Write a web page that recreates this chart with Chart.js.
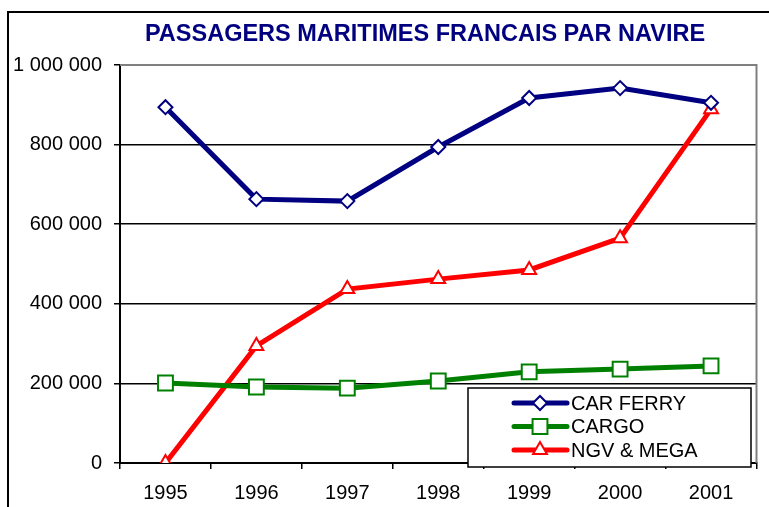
<!DOCTYPE html>
<html>
<head>
<meta charset="utf-8">
<script src="https://cdn.jsdelivr.net/npm/chart.js@4/dist/chart.umd.min.js"></script>
<style>
  body { margin: 0; background: #fff; }
  #wrap { width: 769px; height: 507px; }
</style>
</head>
<body>
<div id="wrap"><canvas id="navires" width="769" height="507"></canvas></div>
<script>
const years = ["1995", "1996", "1997", "1998", "1999", "2000", "2001"];
const carFerry = [894000, 663000, 658000, 794000, 917000, 942000, 905000];
const cargo = [201000, 191000, 188000, 206000, 229000, 236000, 244000];
const ngvMega = [0, 294000, 437000, 462000, 485000, 565000, 889000];
const yTicks = [0, 200000, 400000, 600000, 800000, 1000000];

function frNumber(v) {
    return String(v).replace(/\B(?=(\d{3})+(?!\d))/g, " ");
}

// title, outer frame, gray plot border and the boxed legend
const decor = {
    id: 'decor',
    afterDraw(chart) {
        const c = chart.ctx;
        const a = chart.chartArea;
        c.save();
        c.strokeStyle = '#000';
        c.lineWidth = 2;
        c.strokeRect(8, 12, 800, 600);

        c.strokeStyle = '#808080';
        c.lineWidth = 2;
        c.beginPath();
        c.moveTo(a.left, a.top);
        c.lineTo(a.right, a.top);
        c.lineTo(a.right, a.bottom);
        c.stroke();

        c.fillStyle = '#000080';
        c.font = 'bold 23.5px "Liberation Sans", Arial, sans-serif';
        c.textAlign = 'center';
        c.textBaseline = 'middle';
        c.fillText('PASSAGERS MARITIMES FRANCAIS PAR NAVIRE', 425, 35);

        // legend box
        c.fillStyle = '#fff';
        c.fillRect(468, 388, 283, 79);
        c.strokeStyle = '#000';
        c.lineWidth = 1.5;
        c.strokeRect(468, 388, 283, 79);
        c.font = '20px "Liberation Sans", Arial, sans-serif';
        c.textAlign = 'left';
        chart.data.datasets.forEach(function (ds, i) {
            const y = 403 + i * 23.5;
            c.strokeStyle = ds.borderColor;
            c.lineWidth = 5;
            c.lineCap = 'round';
            c.beginPath();
            c.moveTo(514, y);
            c.lineTo(567, y);
            c.stroke();
            c.fillStyle = '#fff';
            c.strokeStyle = ds.borderColor;
            c.lineWidth = 2;
            Chart.helpers.drawPoint(c, {
                pointStyle: ds.pointStyle,
                radius: ds.pointRadius,
                borderWidth: 2
            }, 540, y);
            c.fillStyle = '#000';
            c.fillText(ds.label, 571, y + 1);
        });
        c.restore();
    }
};

const ctx = document.getElementById("navires");

const myChart = new Chart(ctx, {
    type: 'line',
    data: {
        labels: years,
        datasets: [{
            label: 'CAR FERRY',
            data: carFerry,
            borderColor: '#000080',
            borderWidth: 5,
            pointStyle: 'rectRot',
            pointRadius: 7,
            pointBackgroundColor: '#fff',
            pointBorderColor: '#000080',
            pointBorderWidth: 2,
            tension: 0
        }, {
            label: 'CARGO',
            data: cargo,
            borderColor: '#008000',
            borderWidth: 5,
            pointStyle: 'rect',
            pointRadius: 10.5,
            pointBackgroundColor: '#fff',
            pointBorderColor: '#008000',
            pointBorderWidth: 2,
            tension: 0
        }, {
            label: 'NGV & MEGA',
            data: ngvMega,
            borderColor: '#ff0000',
            borderWidth: 5,
            pointStyle: 'triangle',
            pointRadius: 8,
            pointBackgroundColor: '#fff',
            pointBorderColor: '#ff0000',
            pointBorderWidth: 2,
            tension: 0
        }]
    },
    options: {
        responsive: false,
        animation: false,
        layout: {
            padding: { top: 65, right: 8, left: 0, bottom: 0 }
        },
        plugins: {
            legend: { display: false },
            title: { display: false },
            tooltip: { enabled: false }
        },
        scales: {
            x: {
                offset: true,
                grid: {
                    offset: true,
                    drawOnChartArea: false,
                    drawTicks: true,
                    tickLength: 6,
                    tickColor: '#000',
                    lineWidth: 1.5
                },
                border: { color: '#000', width: 2 },
                ticks: {
                    color: '#000',
                    padding: 12,
                    font: { family: '"Liberation Sans", Arial, sans-serif', size: 20 }
                },
                afterFit(scale) { scale.height = 44; }
            },
            y: {
                min: 0,
                max: 1000000,
                afterBuildTicks(scale) {
                    scale.ticks = yTicks.map(function (v) { return { value: v }; });
                },
                grid: {
                    color: function (c) { return c.tick && c.tick.value === 1000000 ? '#808080' : '#000'; },
                    lineWidth: 1.5,
                    tickLength: 6,
                    tickColor: '#000'
                },
                border: { color: '#000', width: 2 },
                ticks: {
                    color: '#000',
                    padding: 12,
                    font: { family: '"Liberation Sans", Arial, sans-serif', size: 20 },
                    callback: function (v) { return frNumber(v); }
                },
                afterFit(scale) { scale.width = 120; }
            }
        }
    },
    plugins: [decor]
});
</script>
</body>
</html>
